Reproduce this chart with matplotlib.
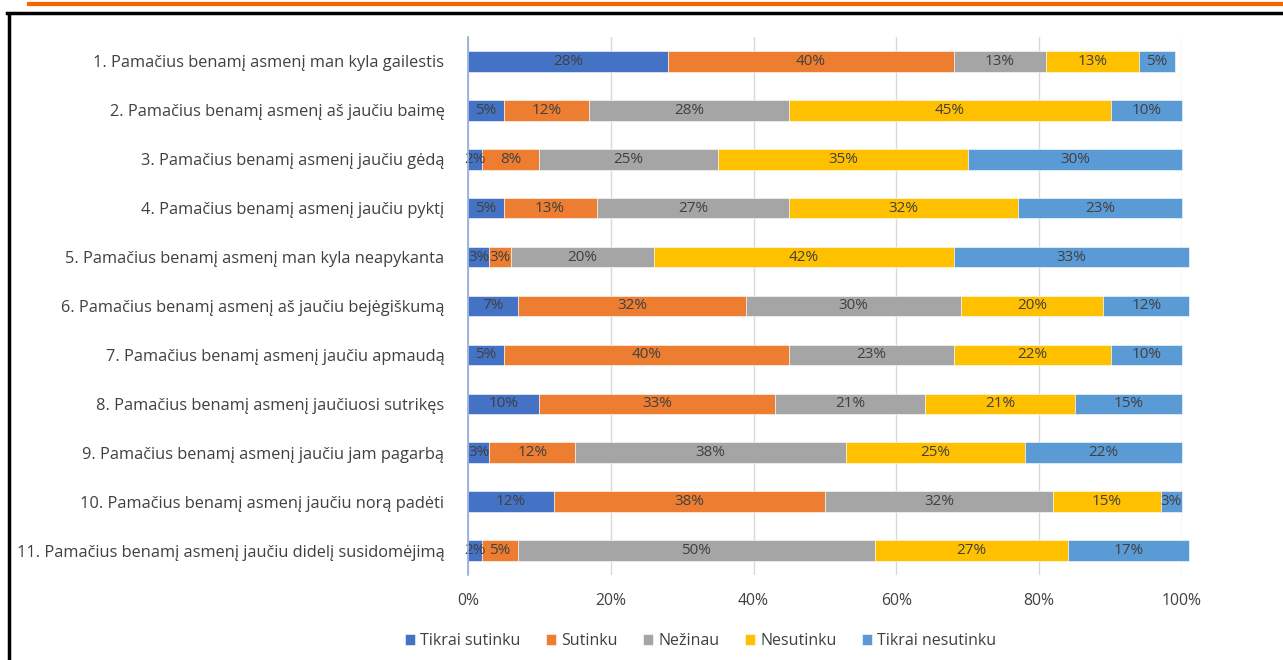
import numpy as np
import matplotlib.pyplot as plt
from matplotlib.lines import Line2D
from matplotlib.ticker import FuncFormatter

categories = [
    "1. Pamačius benamį asmenį man kyla gailestis",
    "2. Pamačius benamį asmenį aš jaučiu baimę",
    "3. Pamačius benamį asmenį jaučiu gėdą",
    "4. Pamačius benamį asmenį jaučiu pyktį",
    "5. Pamačius benamį asmenį man kyla neapykanta",
    "6. Pamačius benamį asmenį aš jaučiu bejėgiškumą",
    "7. Pamačius benamį asmenį jaučiu apmaudą",
    "8. Pamačius benamį asmenį jaučiuosi sutrikęs",
    "9. Pamačius benamį asmenį jaučiu jam pagarbą",
    "10. Pamačius benamį asmenį jaučiu norą padėti",
    "11. Pamačius benamį asmenį jaučiu didelį susidomėjimą",
]
series_names = ["Tikrai sutinku", "Sutinku", "Nežinau", "Nesutinku", "Tikrai nesutinku"]
tikrai_sutinku = [28, 5, 2, 5, 3, 7, 5, 10, 3, 12, 2]
sutinku = [40, 12, 8, 13, 3, 32, 40, 33, 12, 38, 5]
nezinau = [13, 28, 25, 27, 20, 30, 23, 21, 38, 32, 50]
nesutinku = [13, 45, 35, 32, 42, 20, 22, 21, 25, 15, 27]
tikrai_nesutinku = [5, 10, 30, 23, 33, 12, 10, 15, 22, 3, 17]
x_ticks = [0, 20, 40, 60, 80, 100]

colors = ['#4472C4', '#ED7D31', '#A5A5A5', '#FFC000', '#5B9BD5']
txt_col = '#404040'

plt.rcParams['font.family'] = ['Open Sans', 'DejaVu Sans']

fig = plt.figure(figsize=(12.83, 6.6), dpi=100)
ax = fig.add_axes([468/1283, 1 - 575/660, (1182-468)/1283, (575-37)/660])

data = [tikrai_sutinku, sutinku, nezinau, nesutinku, tikrai_nesutinku]
y = np.arange(len(categories))
left = np.zeros(len(categories))
for vals, name, c in zip(data, series_names, colors):
    vals = np.array(vals, dtype=float)
    bars = ax.barh(y, vals, left=left, height=0.42, color=c, label=name,
                   edgecolor='white', linewidth=0.4, clip_on=False, zorder=3)
    for b, v in zip(bars, vals):
        ax.text(b.get_x() + b.get_width()/2, b.get_y() + b.get_height()/2,
                '{:.0f}%'.format(v), ha='center', va='center',
                fontsize=11, color=txt_col, zorder=4, clip_on=False)
    left += vals

ax.set_xlim(0, 100)
ax.set_ylim(len(categories) - 0.5, -0.5)
ax.set_xticks(x_ticks)
ax.xaxis.set_major_formatter(FuncFormatter(lambda v, p: '{:.0f}%'.format(v)))
ax.set_yticks(y)
ax.set_yticklabels(categories)
ax.tick_params(axis='both', length=0, labelsize=11.8, colors=txt_col)
ax.tick_params(axis='x', pad=13, labelsize=11.3)
ax.tick_params(axis='y', pad=17)
ax.grid(axis='x', color='#D9D9D9', linewidth=1, zorder=0)
ax.set_axisbelow(True)
for s in ['top', 'right', 'bottom']:
    ax.spines[s].set_visible(False)
ax.spines['left'].set_color('#8FAADC')
ax.spines['left'].set_linewidth(1.2)
ax.spines['left'].set_zorder(5)

leg = fig.legend(loc='center', bbox_to_anchor=(0.546, 1 - 641/660), ncol=5,
                 frameon=False, fontsize=11.5, handlelength=0.65, handleheight=0.65,
                 handletextpad=0.3, columnspacing=1.6)
for t in leg.get_texts():
    t.set_color(txt_col)

# decorative frame
fig.add_artist(Line2D([29/1283, 1], [1 - 4/660, 1 - 4/660], color='#F96400', linewidth=3))
fig.add_artist(Line2D([7/1283, 1], [1 - 12.5/660, 1 - 12.5/660], color='black', linewidth=2.5))
fig.add_artist(Line2D([8.5/1283, 8.5/1283], [0, 1 - 11.5/660], color='black', linewidth=2.5,
                      solid_capstyle='butt'))

fig.savefig('out.png', dpi=100)
